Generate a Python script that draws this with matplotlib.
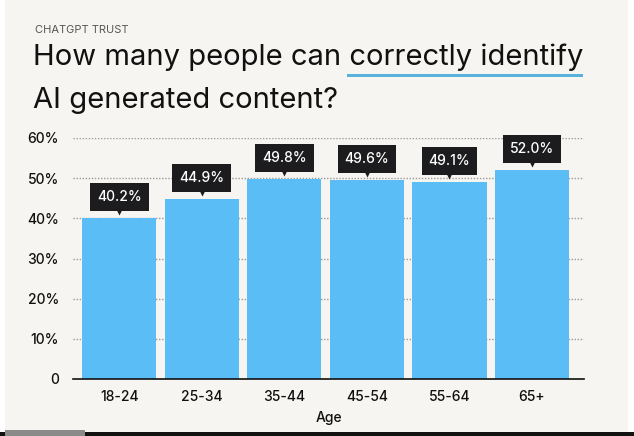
import matplotlib.pyplot as plt
import matplotlib.transforms as mtransforms
from matplotlib.patches import Rectangle

plt.rcParams['font.family'] = ['Inter', 'DejaVu Sans']

ages = ['18-24', '25-34', '35-44', '45-54', '55-64', '65+']
values = [40.2, 44.9, 49.8, 49.6, 49.1, 52.0]
yticks = [0, 10, 20, 30, 40, 50, 60]
ylabels = ['0', '10%', '20%', '30%', '40%', '50%', '60%']

bg = '#f7f5f1'
bar_color = '#5bbdf6'
dark = '#1c1b1d'

fig = plt.figure(figsize=(6.34, 4.36), dpi=100)
fig.patch.set_facecolor('white')
W, H = 634, 436

# off-white panel with dark strip at the bottom
fig.patches.append(Rectangle((5 / W, 4 / H), 623 / W, 1 - 4 / H, transform=fig.transFigure,
                             facecolor=bg, edgecolor='none', zorder=-2))
fig.patches.append(Rectangle((0, 0), 1, 4 / H, transform=fig.transFigure,
                             facecolor='#111111', edgecolor='none', zorder=-1))
fig.patches.append(Rectangle((5 / W, 0), 80 / W, 6 / H, transform=fig.transFigure,
                             facecolor='#8a8a8a', edgecolor='none', zorder=0))

# header
fig.text(35 / W, 1 - 30 / H, 'CHATGPT TRUST', fontsize=8, color='#555555', va='center')
fig.text(33 / W, 1 - 57 / H, 'How many people can correctly identify', fontsize=21,
         color='#111111', va='center')
fig.text(33 / W, 1 - 100 / H, 'AI generated content?', fontsize=21,
         color='#111111', va='center')
fig.patches.append(Rectangle((347 / W, 1 - 77 / H), 236 / W, 2.5 / H, transform=fig.transFigure,
                             facecolor='#57b3dc', edgecolor='none'))

ax = fig.add_axes([73 / W, 1 - 379 / H, 511 / W, 241 / H])
ax.set_facecolor('none')
x = range(len(ages))
ax.bar(x, values, width=0.9, color=bar_color, zorder=2)
ax.set_xlim(-0.56, 5.63)
ax.set_ylim(0, 60)

for y in yticks[1:]:
    ax.axhline(y, color='#9a9a9a', lw=1, ls=(0, (1, 1.2)), zorder=1)

ax.set_yticks(yticks)
ax.set_yticklabels(ylabels, fontsize=10, color='#111111', fontweight='medium')
ax.set_xticks(list(x))
ax.set_xticklabels(ages, fontsize=10, color='#111111', fontweight='medium')
ax.tick_params(length=0, pad=8)
ax.tick_params(axis='y', pad=10)
ax.set_xlabel('Age', fontsize=10, color='#111111', labelpad=5, fontweight='medium')
for s in ['top', 'right', 'left']:
    ax.spines[s].set_visible(False)
ax.spines['bottom'].set_color('#111111')
ax.spines['bottom'].set_linewidth(1.2)
ax.spines['bottom'].set_zorder(3)

for i, v in enumerate(values):
    ax.annotate(f'{v:.1f}%', xy=(i, v), xytext=(0, 15), textcoords='offset points',
                ha='center', va='center', fontsize=10, color='white', zorder=5,
                fontweight='medium',
                bbox=dict(boxstyle='square,pad=0.5', facecolor=dark, edgecolor='none'))
    off = mtransforms.offset_copy(ax.transData, fig=fig, x=0, y=5, units='points')
    ax.plot(i, v, marker='v', ms=6, color=dark, mec='none', transform=off, zorder=5)

fig.savefig('out.png', dpi=100, facecolor=fig.get_facecolor())
